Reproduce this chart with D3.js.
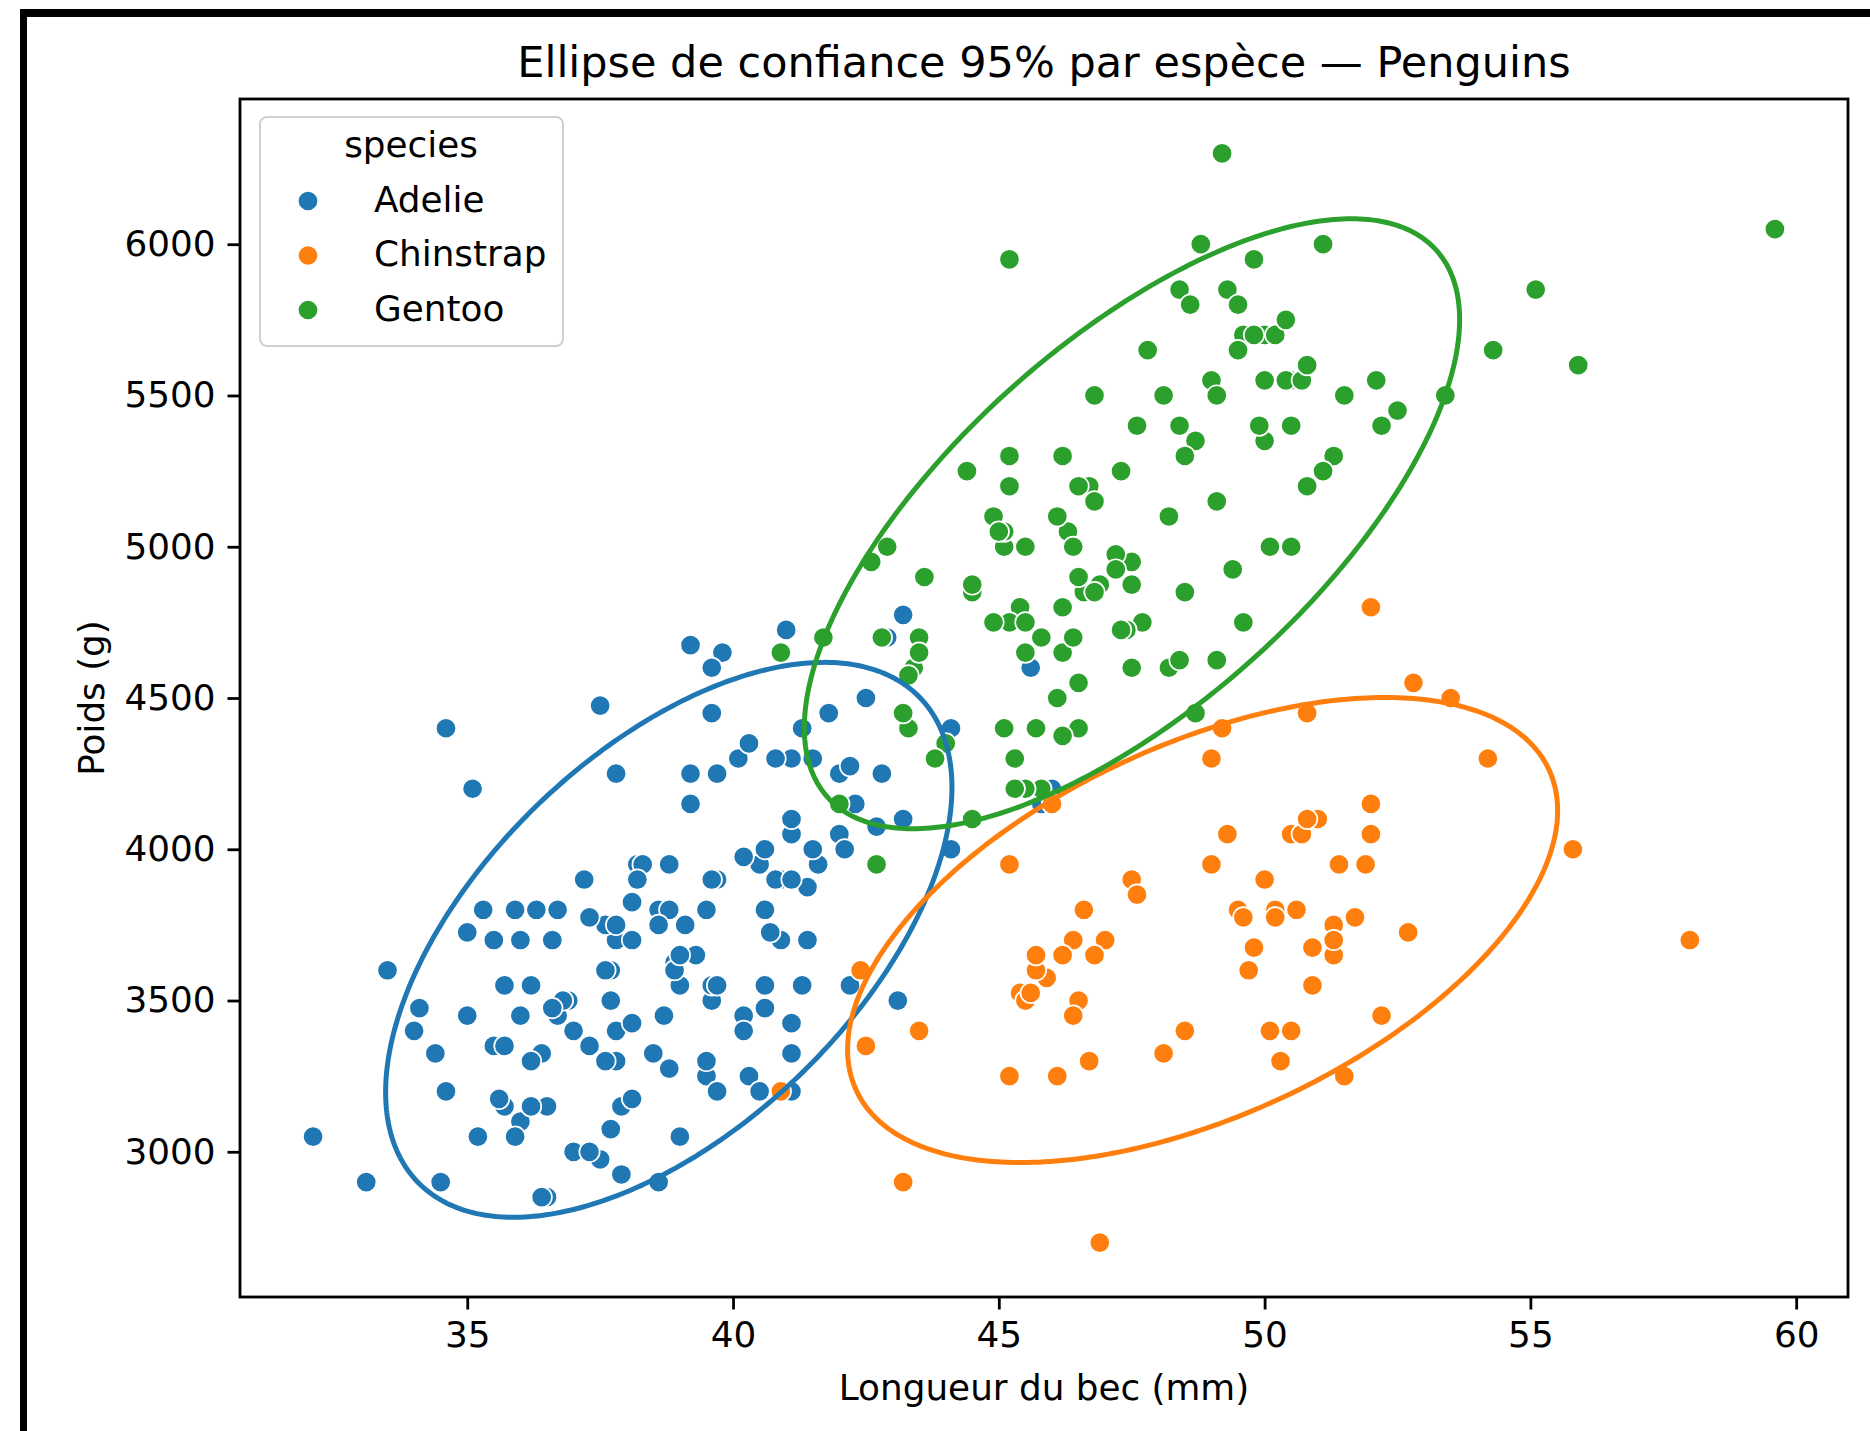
<!DOCTYPE html>
<html>
<head>
<meta charset="utf-8">
<script src="https://cdn.jsdelivr.net/npm/d3@7"></script>
<style>
  body { margin: 0; background: #fff; }
  svg { display: block; font-family: "DejaVu Sans", sans-serif; }
</style>
</head>
<body>
<script>
// bill length (mm) and body mass (g), one pair of arrays per species
const adelieBill = [39.1,39.5,40.3,36.7,39.3,38.9,39.2,34.1,42.0,37.8,37.8,41.1,38.6,34.6,36.6,38.7,42.5,34.4,46.0,
  37.8,37.7,35.9,38.2,38.8,35.3,40.6,40.5,37.9,40.5,
  39.5,37.2,39.5,40.9,36.4,39.2,38.8,42.2,37.6,39.8,36.5,40.8,36.0,44.1,37.0,39.6,41.1,37.5,36.0,42.3,
  39.6,40.1,35.0,42.0,34.5,41.4,39.0,40.6,36.5,37.6,35.7,41.3,37.6,41.1,36.4,41.6,35.5,41.1,
  35.9,41.8,33.5,39.7,39.6,45.8,35.5,42.8,40.9,37.2,36.2,42.1,34.6,42.9,36.7,35.1,
  37.3,41.3,36.3,36.9,38.3,38.9,35.7,41.1,34.0,39.6,36.2,40.8,38.1,40.3,33.1,43.2,
  35.0,41.0,37.7,37.8,37.9,39.7,38.6,38.2,38.1,43.2,38.1,45.6,39.7,42.2,39.6,42.7,
  38.6,37.3,35.7,41.1,36.2,37.7,40.2,41.4,35.2,40.6,38.8,41.5,39.0,44.1,38.5,43.1,
  36.8,37.5,38.1,41.1,35.6,40.2,37.0,39.7,40.2,40.6,32.1,40.7,37.3,39.0,39.2,36.6,36.0,37.8,36.0,41.5];
const adelieMass = [3750,3800,3250,3450,3650,3625,4675,3475,4250,3300,3700,3200,3800,4400,3700,3450,4500,3325,4200,
  3400,3600,3800,3950,3800,3800,3550,3200,3150,3950,
  3250,3900,3300,3900,3325,4150,3950,3550,3300,4650,3150,3900,3100,4400,3000,4600,3425,2975,3450,4150,
  3500,4300,3450,4050,2900,3700,3550,3800,2850,3750,3150,4400,3600,4050,2850,3950,3350,4100,
  3050,4450,3600,3900,3550,4150,3700,4250,3700,3900,3550,4000,3200,4700,3800,4200,
  3350,3550,3800,3500,3950,3600,3550,4300,3400,4450,3300,4300,3700,4350,2900,4100,
  3725,4725,3075,4250,2925,3550,3750,3900,3175,4775,3825,4600,3200,4275,3900,4075,
  2900,3775,3350,3325,3150,3500,3450,3875,3050,4000,3275,4300,3050,4000,3325,3500,
  3500,4475,3425,3900,3175,3975,3400,4250,3400,3475,3050,3725,3000,3650,4250,3475,3450,3750,3700,4000];

const chinstrapBill = [46.5,50.0,51.3,45.4,52.7,45.2,46.1,51.3,46.0,51.3,46.6,51.7,47.0,52.0,45.9,50.5,50.3,58.0,46.4,49.2,
  42.4,48.5,43.2,50.6,46.7,52.0,50.5,49.5,46.4,52.8,40.9,54.2,42.5,51.0,49.7,47.5,47.6,52.0,46.9,53.5,
  49.0,46.2,50.9,45.5,50.9,50.8,50.1,49.0,51.5,49.8,48.1,51.4,45.7,50.7,42.5,52.2,45.2,49.3,50.2,45.6,
  51.9,46.8,45.7,55.8,43.5,49.6,50.8,50.2];
const chinstrapMass = [3500,3900,3650,3525,3725,3950,3250,3750,4150,3700,3800,3775,3700,4050,3575,4050,3300,3700,3450,4400,
  3600,3400,2900,3800,3300,4150,3400,3800,3700,4550,3200,4300,3350,4100,3600,3900,3850,4800,2700,4500,
  3950,3650,3550,3500,3675,4450,3400,4300,3250,3675,3325,3950,3600,4050,3350,3450,3250,4050,3800,3525,
  3950,3650,3650,4000,3400,3775,4100,3775];

const gentooBill = [46.1,50.0,48.7,50.0,47.6,46.5,45.4,46.7,43.3,46.8,40.9,49.0,45.5,48.4,45.8,49.3,42.0,49.2,46.2,48.7,
  50.2,45.1,46.5,46.3,42.9,46.1,44.5,47.8,48.2,50.0,47.3,42.8,45.1,59.6,49.1,48.4,42.6,44.4,44.0,48.7,
  42.7,49.6,45.3,49.6,50.5,43.6,45.5,50.5,44.9,45.2,46.6,48.5,45.1,50.1,46.5,45.0,43.8,45.5,43.2,50.4,
  45.3,46.2,45.7,54.3,45.8,49.8,46.2,49.5,43.5,50.7,47.7,46.4,48.2,46.5,46.4,48.6,47.5,51.1,45.2,45.2,
  49.1,52.5,47.4,50.0,44.9,50.8,43.4,51.3,47.5,52.1,47.5,52.2,45.5,49.5,44.5,50.8,49.4,46.9,48.4,51.1,
  48.5,55.9,47.2,49.1,47.3,46.8,41.7,53.4,43.3,48.1,50.5,49.8,43.5,51.5,46.2,55.1,44.5,48.8,47.2,46.8,
  50.4,45.2,49.9];
const gentooMass = [4500,5700,4450,5700,5400,4550,4800,5200,4400,5150,4650,5550,4650,5850,4200,5850,4150,6300,4800,5350,
  5700,5000,4400,5050,5000,5100,4100,5650,4600,5550,5250,4700,5050,6050,5150,5400,4950,5250,4350,5350,
  3950,5700,4300,4750,5550,4900,4200,5400,5100,5300,4850,5300,4400,5000,4900,5050,4300,5000,4450,5550,
  4200,5300,4400,5650,4700,5700,4650,5800,4700,5550,4750,5000,5100,5200,4700,5800,4600,6000,4750,5950,
  4625,5450,4725,5350,4750,5600,4600,5300,4875,5550,4950,5400,4750,5650,4850,5200,4925,4875,4625,5250,
  4850,5600,4975,5500,4725,5500,4700,5500,4575,5500,5000,5950,4650,5500,4375,5850,4875,6000,4925,4850,
  5750,5200,5400];

const speciesNames = ["Adelie", "Chinstrap", "Gentoo"];
const speciesColors = ["#1f77b4", "#ff7f0e", "#2ca02c"];
const xTicks = [35, 40, 45, 50, 55, 60];
const yTicks = [3000, 3500, 4000, 4500, 5000, 5500, 6000];

const groups = [
  { name: speciesNames[0], color: speciesColors[0], bill: adelieBill, mass: adelieMass },
  { name: speciesNames[1], color: speciesColors[1], bill: chinstrapBill, mass: chinstrapMass },
  { name: speciesNames[2], color: speciesColors[2], bill: gentooBill, mass: gentooMass }
];

const W = 1870, H = 1431;
const pLeft = 240, pRight = 1848, pTop = 99, pBottom = 1297;

const svg = d3.select("body").append("svg").attr("width", W).attr("height", H);
svg.append("rect").attr("width", W).attr("height", H).attr("fill", "#fff");

// black frame of the screenshot
svg.append("rect").attr("x", 20).attr("y", 9).attr("width", W - 20).attr("height", 8).attr("fill", "#000");
svg.append("rect").attr("x", 20).attr("y", 9).attr("width", 7).attr("height", H - 9).attr("fill", "#000");

// matplotlib-like autoscale: 5% margins on the data range
const allBill = adelieBill.concat(chinstrapBill, gentooBill);
const allMass = adelieMass.concat(chinstrapMass, gentooMass);
const [bx0, bx1] = d3.extent(allBill);
const [my0, my1] = d3.extent(allMass);
const x = d3.scaleLinear()
  .domain([bx0 - 0.05 * (bx1 - bx0), bx1 + 0.05 * (bx1 - bx0)])
  .range([pLeft, pRight]);
const y = d3.scaleLinear()
  .domain([my0 - 0.05 * (my1 - my0), my1 + 0.05 * (my1 - my0)])
  .range([pBottom, pTop]);

// points
const pts = [];
groups.forEach(g => g.bill.forEach((b, i) => pts.push({ b: b, m: g.mass[i], color: g.color })));
svg.append("g").selectAll("circle")
  .data(pts)
  .enter()
  .append("circle")
  .attr("cx", d => x(d.b))
  .attr("cy", d => y(d.m))
  .attr("r", 10.2)
  .attr("fill", d => d.color)
  .attr("stroke", "#fff")
  .attr("stroke-width", 1.7);

// 2-sigma covariance ellipse per species
function ellipsePts(bx, my, nStd) {
  const n = bx.length;
  const mx = d3.mean(bx), mm = d3.mean(my);
  let sxx = 0, syy = 0, sxy = 0;
  for (let i = 0; i < n; i++) {
    const dx = bx[i] - mx, dy = my[i] - mm;
    sxx += dx * dx; syy += dy * dy; sxy += dx * dy;
  }
  sxx /= (n - 1); syy /= (n - 1); sxy /= (n - 1);
  const p = sxy / Math.sqrt(sxx * syy);
  const rx = Math.sqrt(1 + p), ry = Math.sqrt(1 - p);
  const sx = Math.sqrt(sxx) * nStd, sy = Math.sqrt(syy) * nStd;
  return d3.range(0, 360).map(k => {
    const t = k / 360 * 2 * Math.PI;
    const u = rx * Math.cos(t), v = ry * Math.sin(t);
    const a = (u - v) / Math.SQRT2, c = (u + v) / Math.SQRT2;
    return [mx + a * sx, mm + c * sy];
  });
}
const line = d3.line().x(d => x(d[0])).y(d => y(d[1])).curve(d3.curveLinearClosed);
groups.forEach(g => {
  svg.append("path")
    .attr("d", line(ellipsePts(g.bill, g.mass, 2)))
    .attr("fill", "none")
    .attr("stroke", g.color)
    .attr("stroke-width", 5);
});

// axes
const xAxis = d3.axisBottom(x).tickValues(xTicks).tickFormat(d3.format("d")).tickSize(12.5).tickPadding(12).tickSizeOuter(0);
const yAxis = d3.axisLeft(y).tickValues(yTicks).tickFormat(d3.format("d")).tickSize(12.5).tickPadding(12).tickSizeOuter(0);
const gx = svg.append("g").attr("transform", "translate(0," + pBottom + ")").call(xAxis);
const gy = svg.append("g").attr("transform", "translate(" + pLeft + ",0)").call(yAxis);
[gx, gy].forEach(g => {
  g.select(".domain").remove();
  g.selectAll("line").attr("stroke", "#000").attr("stroke-width", 2.8);
  g.selectAll("text").attr("fill", "#000").style("font-size", "35.8px").style("font-family", "DejaVu Sans");
});

svg.append("rect")
  .attr("x", pLeft).attr("y", pTop)
  .attr("width", pRight - pLeft).attr("height", pBottom - pTop)
  .attr("fill", "none").attr("stroke", "#000").attr("stroke-width", 2.8);

// labels
svg.append("text")
  .attr("x", (pLeft + pRight) / 2).attr("y", 77)
  .attr("text-anchor", "middle")
  .style("font-size", "43px")
  .text("Ellipse de confiance 95% par espèce — Penguins");
svg.append("text")
  .attr("x", (pLeft + pRight) / 2).attr("y", 1400)
  .attr("text-anchor", "middle")
  .style("font-size", "35.8px")
  .text("Longueur du bec (mm)");
svg.append("text")
  .attr("transform", "translate(104," + (pTop + pBottom) / 2 + ") rotate(-90)")
  .attr("text-anchor", "middle")
  .style("font-size", "35.8px")
  .text("Poids (g)");

// legend
const lg = svg.append("g");
lg.append("rect")
  .attr("x", 260).attr("y", 117).attr("width", 303).attr("height", 229)
  .attr("rx", 7).attr("ry", 7)
  .attr("fill", "#fff").attr("fill-opacity", 0.8)
  .attr("stroke", "#d0d0d0").attr("stroke-width", 2);
lg.append("text")
  .attr("x", 411).attr("y", 157)
  .attr("text-anchor", "middle")
  .style("font-size", "35.8px")
  .text("species");
groups.forEach((g, i) => {
  const cy = 201 + i * 54.5;
  lg.append("circle").attr("cx", 308).attr("cy", cy).attr("r", 10.2)
    .attr("fill", g.color).attr("stroke", "#fff").attr("stroke-width", 1.7);
  lg.append("text").attr("x", 374).attr("y", cy).attr("dy", "0.3em")
    .style("font-size", "35.8px").text(g.name);
});
</script>
</body>
</html>
